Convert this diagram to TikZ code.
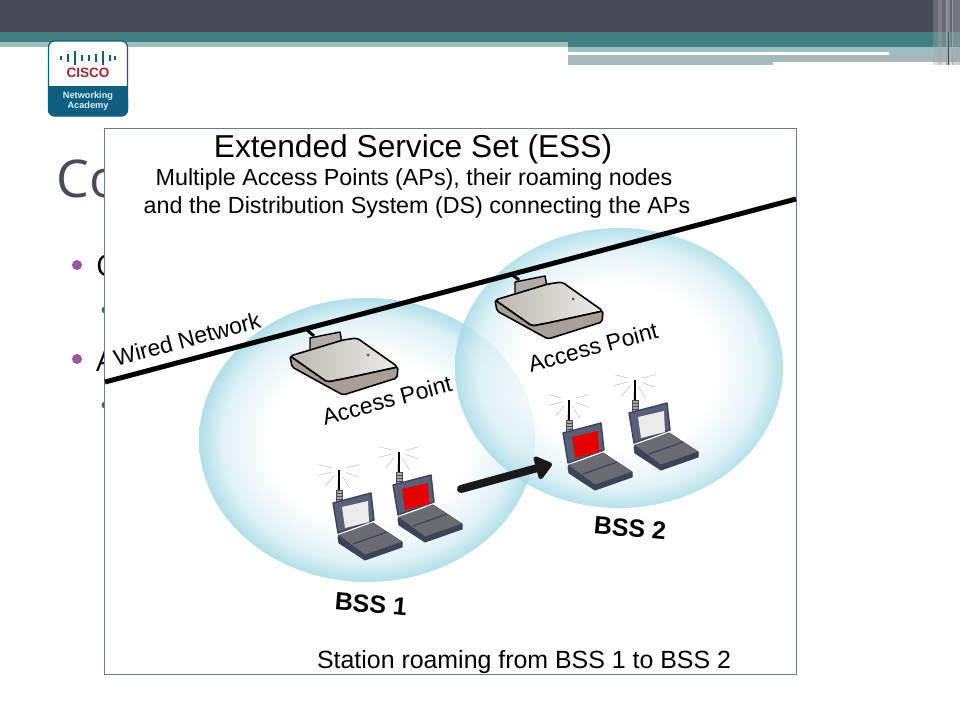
\documentclass[tikz,border=0pt]{standalone}
\usepackage{fontspec}
\setmainfont{Liberation Sans}
\newfontfamily\slidefont{Open Sans}
\usetikzlibrary{arrows.meta,positioning}
\definecolor{slate}{HTML}{474A58}
\definecolor{teal1}{HTML}{437F82}
\definecolor{teal2}{HTML}{9DBFC1}
\definecolor{teal3}{HTML}{A6BABC}
\definecolor{ciscoblue}{HTML}{0F5F80}
\definecolor{ciscored}{HTML}{A02434}
\definecolor{bubbleblue}{HTML}{A4DAE5}
\definecolor{lapgrey}{HTML}{6A6C72}
\definecolor{lapdark}{HTML}{3E4258}
\definecolor{lidblue}{HTML}{5A5E76}
\definecolor{apgrey}{HTML}{DDD8D0}
\definecolor{apdark}{HTML}{A89F96}
\definecolor{plum}{HTML}{9B55A0}
\definecolor{panelgrey}{HTML}{6F7B85}
\pgfdeclareradialshading{bubble}{\pgfpoint{0bp}{0bp}}{color(0bp)=(white);color(15bp)=(white);color(21.5bp)=(bubbleblue!40);color(25bp)=(bubbleblue);color(50bp)=(bubbleblue)}
\tikzset{
	hlabel/.style={font=\fontsize{23}{23}\selectfont,inner sep=0pt},
	bsslabel/.style={font=\fontsize{25}{25}\selectfont\bfseries,inner sep=0pt,rotate=-5},
	bullet/.style={circle,fill=plum,minimum size=10pt,inner sep=0pt},
	pics/laptop/.style={code={
		\foreach \a in {20,60,95,130,165,195,-15}
			\draw[black!30,thin] (0,-33) ++(\a:7) -- ++(\a:14);
		\draw[line width=1.2pt,black] (0,-33) -- (0,0);
		\draw[fill=lapgrey!60,draw=black!70] (-3,-13) rectangle (3,-2);
		\foreach \c in {-10,-7,-4}
			\draw[black!70] (-3,\c) -- (3,\c);
		\draw[fill=lapdark,draw=lapdark,line width=1pt,line join=round] (-1,34) -- (0,40) -- (26,57) -- (63,44) -- (63,39) -- (34,20) -- cycle;
		\fill[lapgrey] (-1,32) -- (34,20) -- (63,39) -- (26,52) -- cycle;
		\draw[lapdark,line width=1.2pt] (14,41) -- (48,29);
		\draw[lapdark,line width=.7pt] (-1,32) -- (26,52) -- (63,39);
		\draw[fill=lidblue,draw=lapdark,line width=1.4pt,line join=round] (-6,0) -- (32,-10) -- (35,17) -- (-1,30) -- cycle;
		\fill[#1] (3,4) -- (29,-2) -- (30,19) -- (6,25) -- cycle;
		}},
	pics/accesspoint/.style={code={
		\draw[fill=apgrey!80!black,draw=black,line width=1.4pt,line join=round] (20,-6) -- (20,-18) -- (50,-24) -- (53,-8) -- cycle;
		\draw[left color=apgrey!85!black,right color=apgrey!50!white,draw=black,line width=1.6pt,line join=round,rounded corners=3pt] (0,0) -- (20,-6) -- (53,-16) -- (67,-18) -- (108,11) -- (53,23) -- (37,26) -- cycle;
		\draw[fill=apdark,draw=black,line width=1.6pt,line join=round,rounded corners=2pt] (0,0) -- (37,26) -- (53,23) -- (108,11) -- (107,22) -- (53,39) -- (2,11) -- cycle;
		\fill[black!70] (78,-1) circle (1.5);
		\coordinate (-top) at (24,-20);
		}},
}
\begin{document}
\begin{tikzpicture}[x=1pt,y=-1pt]
\useasboundingbox (0,0) rectangle (960,720);
\fill[white] (0,0) rectangle (960,720);
% header bands
\fill[slate] (0,0) rectangle (960,32);
\fill[teal1] (0,32) rectangle (960,42);
\fill[teal2] (0,42) rectangle (568,47);
\fill[teal1] (568,42) rectangle (960,47);
\fill[teal2] (568,47) rectangle (960,62);
\fill[teal3] (568,55) rectangle (773,65);
\fill[teal3] (773,55) rectangle (935,62);
\fill[white] (568,52) rectangle (889,55);
\foreach \sx/\sw/\so in {933/5/.35,938/4/.6,942/4/.35,946/1/.9,947/3/.7,950/2/.3,952/1/.9,953/7/.5}
	\fill[black!35!white,opacity=\so] (\sx,0) rectangle ++(\sw,65);
\fill[slate] (948,32) rectangle ++(1,33);
% logo
\draw[ciscoblue,line width=1.2pt,fill=white,rounded corners=6pt] (48.5,41) rectangle (127.5,116);
\fill[ciscoblue,rounded corners=6pt] (48,92) rectangle (128,116);
\fill[ciscoblue] (48,86) rectangle (128,100);
\foreach \bx/\bh in {61/2,68/4,75/7,82/3,89/3,96/4,103/7,110/3,115/2}
	\draw[ciscoblue,line width=1.4pt] (\bx,58-\bh) -- (\bx,58+\bh);
\node[font=\fontsize{13.5}{13.5}\selectfont\bfseries,text=ciscored,inner sep=0pt] (ciscoword) at (88,73) {CISCO};
\node[font=\fontsize{9.2}{10.5}\selectfont\bfseries,text=cyan!15!white,inner sep=0pt,align=center] (academy) at (88,101) {Networking\\Academy};
% slide behind the panel
\node[font=\fontsize{52}{52}\selectfont\slidefont,text=slate,anchor=base west,inner sep=0pt] (slidetitle) at (56,197) {Co};
\node[bullet] (dotA) at (77,265) {};
\node[bullet] (dotB) at (77,359) {};
\node[font=\fontsize{30}{30}\selectfont\slidefont,anchor=base west,inner sep=0pt] (letterC) at (96,276) {C};
\node[font=\fontsize{30}{30}\selectfont\slidefont,anchor=base west,inner sep=0pt] (letterA) at (96,371) {A};
\fill[teal1!85!black] (105,310) circle (3.5);
\fill[teal1!85!black] (105,405) circle (3.5);
% panel
\node[draw=panelgrey,fill=white,line width=.8pt,minimum width=692pt,minimum height=546pt,inner sep=0pt,anchor=north west] (panel) at (104,128) {};
% basic service sets
\shade[shading=bubble,opacity=.85] (367,440) ellipse [x radius=168,y radius=142];
\shade[shading=bubble,opacity=.8] (619,368) ellipse [x radius=164,y radius=140];
% wired network
\coordinate (wireA) at (105,382);
\coordinate (wireB) at (796,199);
\coordinate (tapA) at (307,330);
\coordinate (tapB) at (511,274);
\draw[line width=5pt,black] (wireA) -- (wireB);
\pic (apA) at (290,356) {accesspoint};
\pic (apB) at (495,300) {accesspoint};
\draw[line width=3pt,black] (tapA) -- (apA-top);
\draw[line width=3pt,black] (tapB) -- (apB-top);
% stations
\pic (stA) at (339,503) {laptop=black!8};
\pic (stB) at (399,485) {laptop=red!90!black};
\pic (stC) at (569,433) {laptop=red!90!black};
\pic (stD) at (635,413) {laptop=black!8};
\coordinate (roamA) at (461,489);
\coordinate (roamB) at (552,464);
\draw[line width=8pt,line cap=round,black!90,-{Triangle[round,length=18pt,width=27pt]}] (roamA) -- (roamB);
% texts
\node[font=\fontsize{31.7}{31.7}\selectfont,inner sep=0pt] (essTitle) at (413,149) {Extended Service Set (ESS)};
\node[font=\fontsize{23.3}{23.3}\selectfont,inner sep=0pt] (essLineA) at (414,179.5) {Multiple Access Points (APs), their roaming nodes};
\node[font=\fontsize{23.3}{23.3}\selectfont,inner sep=0pt] (essLineB) at (417,207.5) {and the Distribution System (DS) connecting the APs};
\node[hlabel,rotate=15] (wiredLabel) at (187,339) {Wired Network};
\node[hlabel,rotate=15] (apLabelA) at (387,400) {Access Point};
\node[hlabel,rotate=15] (apLabelB) at (593,347) {Access Point};
\node[bsslabel] (bssLabelA) at (371,604) {BSS 1};
\node[bsslabel] (bssLabelB) at (630,528) {BSS 2};
\node[hlabel,font=\fontsize{24.9}{24.9}\selectfont] (roamLabel) at (524,662) {Station roaming from BSS 1 to BSS 2};
\end{tikzpicture}
\end{document}
